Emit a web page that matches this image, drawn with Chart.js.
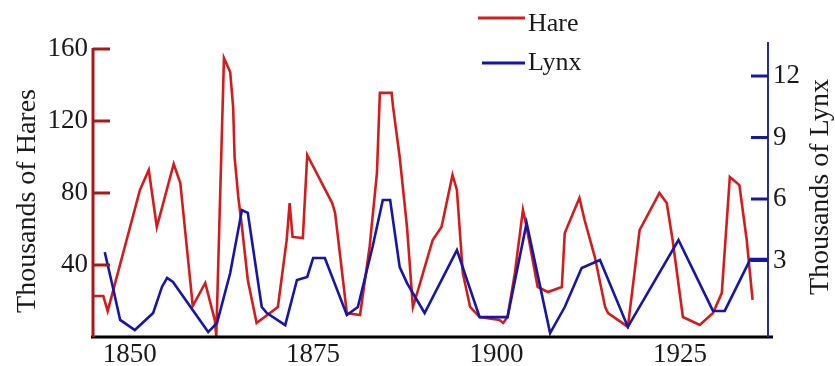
<!DOCTYPE html>
<html><head><meta charset="utf-8">
<script src="https://cdn.jsdelivr.net/npm/chart.js@4.4.0/dist/chart.umd.min.js"></script>
<style>html,body{margin:0;padding:0;background:#fff;overflow:hidden}canvas{display:block}</style>
</head><body>
<canvas id="c" width="835" height="366"></canvas>
<script>
// Hare pelts (thousands) — vertices
const hareYears = [1845.0,1846.4,1847.0,1851.4,1852.6,1853.7,1856.0,1856.9,1858.6,1860.3,1861.6,1861.8,1862.85,1863.7,1864.1,1864.3,1864.8,1865.3,1866.1,1867.3,1870.2,1871.4,1871.8,1872.2,1873.6,1874.2,1877.6,1878.0,1879.6,1881.4,1882.7,1883.7,1884.1,1885.7,1885.9,1886.8,1887.8,1888.6,1889.3,1891.3,1892.5,1894.0,1894.6,1895.4,1896.4,1897.7,1900.4,1900.9,1901.5,1902.5,1903.6,1904.1,1905.6,1907.0,1908.9,1909.3,1911.3,1912.0,1913.4,1914.8,1915.2,1917.9,1918.8,1919.5,1922.2,1923.2,1924.0,1925.4,1927.7,1929.5,1930.7,1931.8,1933.1,1934.1,1934.5,1934.9];
const hareValues = [22.8,22.8,14.4,81.7,92.8,61.1,96.1,85.6,17.2,30.0,9.4,0.6,155.0,147.2,127.8,100.0,77.8,61.1,31.7,7.8,16.7,53.9,74.4,55.6,55.0,101.1,74.4,68.9,13.3,12.2,50.0,91.1,135.6,135.6,127.8,100.0,61.1,16.7,26.1,53.9,61.1,90.0,81.7,35.6,16.7,11.1,9.4,7.8,11.1,35.6,70.6,61.1,27.8,25.0,27.8,57.8,77.2,65.0,44.4,16.7,13.3,5.6,35.6,59.4,80.0,74.4,53.9,11.1,6.7,13.3,24.4,88.9,84.4,53.9,37.2,20.6];
// Lynx pelts (thousands)
const lynxYears = [1846.6,1847.7,1848.7,1850.7,1853.2,1854.4,1855.1,1855.9,1860.7,1861.9,1863.7,1865.3,1866.1,1868.0,1868.7,1871.2,1872.8,1874.2,1875.0,1876.6,1879.6,1881.1,1883.1,1884.5,1885.5,1886.8,1887.8,1890.2,1894.6,1897.7,1901.5,1904.1,1907.3,1909.3,1911.6,1914.1,1917.9,1924.8,1929.5,1931.1,1934.6,1937.0];
const lynxValues = [3.41,1.71,0.10,-0.39,0.44,1.71,2.15,1.95,-0.49,-0.05,2.39,5.46,5.32,0.73,0.44,-0.15,2.05,2.20,3.12,3.12,0.34,0.73,3.66,5.95,5.95,2.68,1.90,0.44,3.51,0.24,0.24,4.83,-0.54,0.73,2.63,3.02,-0.24,4.00,0.54,0.54,3.07,3.07];

const yearTicks = [1850, 1875, 1900, 1925];
const hareTicks = [40, 80, 120, 160];
const lynxTicks = [3, 6, 9, 12];
const seriesNames = ['Hare', 'Lynx'];
const axisTitles = ['Thousands of Hares', 'Thousands of Lynx'];

const HARE_COLOR = '#d21d1d';
const LYNX_COLOR = '#1616a8';
const HARE_AXIS = '#a8191c';
const LYNX_AXIS = '#2a2a9a';
const FONT = "'Liberation Serif', 'Times New Roman', serif";

const toXY = (xs, ys) => xs.map((x, i) => ({ x: x, y: ys[i] }));

const decor = {
  id: 'decor',
  afterDraw(chart) {
    const ctx = chart.ctx;
    const ca = chart.chartArea;
    const yL = chart.scales.yL, yR = chart.scales.yR;
    ctx.save();
    // x axis line
    ctx.strokeStyle = '#000';
    ctx.lineWidth = 3;
    ctx.beginPath();
    ctx.moveTo(ca.left - 2, ca.bottom);
    ctx.lineTo(ca.right + 5, ca.bottom);
    ctx.stroke();
    // left axis
    ctx.strokeStyle = HARE_AXIS;
    ctx.lineWidth = 3;
    ctx.beginPath();
    ctx.moveTo(ca.left, yL.getPixelForValue(hareTicks[hareTicks.length - 1]) - 1);
    ctx.lineTo(ca.left, ca.bottom);
    ctx.stroke();
    hareTicks.forEach(v => {
      const y = yL.getPixelForValue(v);
      ctx.beginPath(); ctx.moveTo(ca.left, y); ctx.lineTo(ca.left + 17, y); ctx.stroke();
    });
    // right axis
    ctx.strokeStyle = LYNX_AXIS;
    ctx.lineWidth = 2;
    ctx.beginPath();
    ctx.moveTo(ca.right, ca.top);
    ctx.lineTo(ca.right, ca.bottom);
    ctx.stroke();
    ctx.lineWidth = 3;
    ctx.strokeStyle = LYNX_COLOR;
    lynxTicks.forEach(v => {
      const y = yR.getPixelForValue(v);
      ctx.beginPath(); ctx.moveTo(ca.right - 17, y); ctx.lineTo(ca.right, y); ctx.stroke();
    });
    // legend
    ctx.lineWidth = 3;
    ctx.strokeStyle = HARE_COLOR;
    ctx.beginPath(); ctx.moveTo(478, 18); ctx.lineTo(525, 18); ctx.stroke();
    ctx.strokeStyle = LYNX_COLOR;
    ctx.beginPath(); ctx.moveTo(482, 63); ctx.lineTo(525, 63); ctx.stroke();
    ctx.fillStyle = '#1a1a1a';
    ctx.font = '26px ' + FONT;
    ctx.textAlign = 'left';
    ctx.textBaseline = 'alphabetic';
    ctx.fillText(seriesNames[0], 528, 31);
    ctx.fillText(seriesNames[1], 528, 70);
    // axis titles
    ctx.font = '28px ' + FONT;
    ctx.textAlign = 'center';
    ctx.textBaseline = 'middle';
    ctx.save();
    ctx.translate(28, 201);
    ctx.rotate(-Math.PI / 2);
    ctx.fillText(axisTitles[0], 0, 0);
    ctx.restore();
    ctx.save();
    ctx.translate(821, 187);
    ctx.rotate(-Math.PI / 2);
    ctx.fillText(axisTitles[1], 0, 0);
    ctx.restore();
    ctx.restore();
  }
};

new Chart(document.getElementById('c'), {
  type: 'line',
  data: {
    datasets: [
      { label: seriesNames[0], data: toXY(hareYears, hareValues), yAxisID: 'yL',
        borderColor: HARE_COLOR, borderWidth: 2.6, pointRadius: 0, tension: 0, fill: false, order: 2 },
      { label: seriesNames[1], data: toXY(lynxYears, lynxValues), yAxisID: 'yR',
        borderColor: LYNX_COLOR, borderWidth: 2.6, pointRadius: 0, tension: 0, fill: false, order: 1 }
    ]
  },
  options: {
    responsive: false,
    animation: false,
    devicePixelRatio: 1,
    layout: { padding: { top: 42, left: 0, right: 0, bottom: 0 } },
    plugins: { legend: { display: false }, tooltip: { enabled: false } },
    scales: {
      x: {
        type: 'linear', min: 1845, max: 1937,
        grid: { display: false, drawTicks: false }, border: { display: false },
        afterBuildTicks: s => { s.ticks = yearTicks.map(v => ({ value: v })); },
        afterFit: s => { s.height = 29; },
        ticks: { color: '#1a1a1a', padding: 2, maxRotation: 0, autoSkip: false,
          font: { family: FONT, size: 27 }, callback: v => String(v) }
      },
      yL: {
        type: 'linear', position: 'left', min: 0, max: 163.89,
        grid: { display: false, drawTicks: false }, border: { display: false },
        afterBuildTicks: s => { s.ticks = hareTicks.map(v => ({ value: v })); },
        afterFit: s => { s.width = 93; },
        ticks: { color: '#1a1a1a', padding: 5, autoSkip: false,
          font: { family: FONT, size: 27 }, callback: v => String(v) }
      },
      yR: {
        type: 'linear', position: 'right', min: -0.732, max: 13.66,
        grid: { display: false, drawTicks: false }, border: { display: false },
        afterBuildTicks: s => { s.ticks = lynxTicks.map(v => ({ value: v })); },
        afterFit: s => { s.width = 67; },
        ticks: { color: '#1a1a1a', padding: 5, autoSkip: false,
          font: { family: FONT, size: 27 }, callback: v => String(v) }
      }
    }
  },
  plugins: [decor]
});
</script>
</body></html>
